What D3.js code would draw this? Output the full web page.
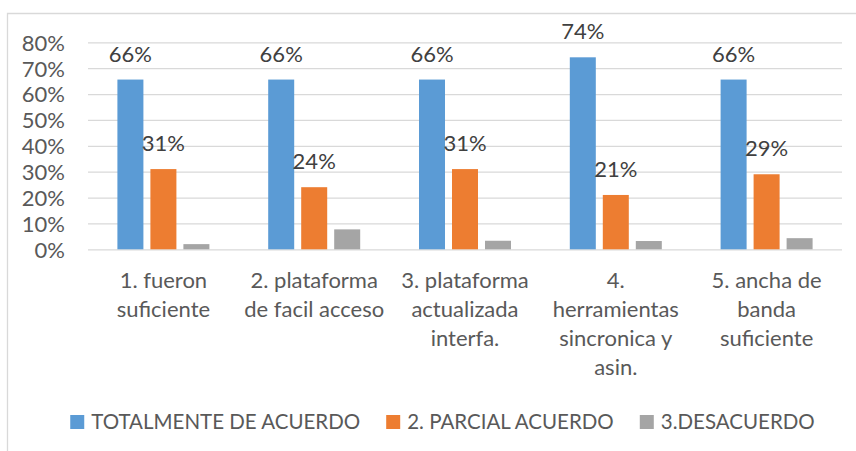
<!DOCTYPE html>
<html>
<head>
    <meta charset="utf-8">
    <title>Encuesta plataforma</title>
    <script src="https://cdn.jsdelivr.net/npm/d3@7"></script>
    <style>
    body { margin: 0; background: #fff; }
    text { font-family: Lato, "Open Sans", sans-serif; }
    .grid line { stroke: #d9d9d9; stroke-width: 1.3px; }
    .grid path { display: none; }
    .tick text, .cat, .legend text { fill: #595959; font-size: 22px; }
    .legend text { font-size: 20.5px; }
    .val { fill: #404040; font-size: 22px; }
    </style>
</head>
<body>
<script>

// categories (wrapped lines as shown under each group)
var categories = ['c1', 'c2', 'c3', 'c4', 'c5'];
var catLines = [
    ['1. fueron', 'suficiente'],
    ['2. plataforma', 'de facil acceso'],
    ['3. plataforma', 'actualizada', 'interfa.'],
    ['4.', 'herramientas', 'sincronica y', 'asin.'],
    ['5. ancha de', 'banda', 'suficiente']
];
var seriesNames = ['TOTALMENTE DE ACUERDO', '2. PARCIAL ACUERDO', '3.DESACUERDO'];
var totalmente = [0.656, 0.656, 0.656, 0.742, 0.656];
var parcial = [0.31, 0.24, 0.31, 0.21, 0.29];
var desacuerdo = [0.02, 0.077, 0.033, 0.032, 0.043];
var yTicks = [0, 0.1, 0.2, 0.3, 0.4, 0.5, 0.6, 0.7, 0.8];
var colors = ['#5b9bd5', '#ed7d31', '#a5a5a5'];

(function() {

    var seriesValues = [totalmente, parcial, desacuerdo];
    var labelled = [true, true, false];

    var width = 856, height = 451;
    var plotLeft = 88, plotRight = 842, plotTop = 42.3, plotBottom = 249.3;

    var svg = d3.select('body').append('svg')
        .attr('width', width)
        .attr('height', height);

    // chart area border (only top and left visible in the crop)
    svg.append('path')
        .attr('d', 'M7.5 ' + height + 'V13.5H' + width)
        .attr('fill', 'none')
        .attr('stroke', '#d9d9d9')
        .attr('stroke-width', 1.3);

    var x = d3.scaleBand().domain(categories).range([plotLeft, plotRight]);
    var xs = d3.scaleBand().domain(d3.range(3)).range([0, x.bandwidth()])
        .paddingInner(0.212).paddingOuter(0.891);
    var y = d3.scaleLinear().domain([0, 0.8]).range([plotBottom, plotTop]);

    var yAxis = svg.append('g')
        .attr('class', 'grid')
        .attr('transform', 'translate(' + plotLeft + ',0)')
        .call(d3.axisLeft(y).tickValues(yTicks).tickFormat(d3.format('.0%'))
            .tickSize(-(plotRight - plotLeft)).tickPadding(23));
    yAxis.selectAll('.tick text').attr('dy', '0.36em');

    // bars
    var groups = svg.selectAll('.group')
        .data(categories)
        .enter().append('g')
        .attr('transform', function(d) { return 'translate(' + x(d) + ',0)'; });

    groups.each(function(c, ci) {
        var g = d3.select(this);
        seriesValues.forEach(function(vals, si) {
            g.append('rect')
                .attr('x', xs(si))
                .attr('y', y(vals[ci]))
                .attr('width', xs.bandwidth())
                .attr('height', plotBottom - y(vals[ci]))
                .attr('fill', colors[si]);
            if (labelled[si]) {
                g.append('text')
                    .attr('class', 'val')
                    .attr('x', xs(si) + xs.bandwidth() / 2)
                    .attr('y', y(vals[ci]) - 18)
                    .attr('text-anchor', 'middle')
                    .text(d3.format('.0%')(vals[ci]));
            }
        });
    });

    // category labels
    groups.each(function(c, ci) {
        var t = d3.select(this).append('text')
            .attr('class', 'cat')
            .attr('text-anchor', 'middle');
        catLines[ci].forEach(function(line, li) {
            t.append('tspan')
                .attr('x', x.bandwidth() / 2)
                .attr('y', 288 + li * 29)
                .text(line);
        });
    });

    // legend, centred like the original
    var legend = svg.append('g').attr('class', 'legend');
    var items = legend.selectAll('g')
        .data(seriesNames)
        .enter().append('g');
    items.append('rect')
        .attr('width', 14).attr('height', 14)
        .attr('y', 415)
        .attr('fill', function(d, i) { return colors[i]; });
    items.append('text')
        .attr('x', 21)
        .attr('y', 422)
        .attr('dy', '0.36em')
        .text(function(d) { return d; });

    var pos = 0, offsets = [];
    items.each(function() {
        offsets.push(pos);
        pos += 21 + d3.select(this).select('text').node().getComputedTextLength() + 26;
    });
    var start = 442.5 - (pos - 26) / 2;
    items.attr('transform', function(d, i) { return 'translate(' + (start + offsets[i]) + ',0)'; });

}).call(this);

</script>
</body>
</html>
